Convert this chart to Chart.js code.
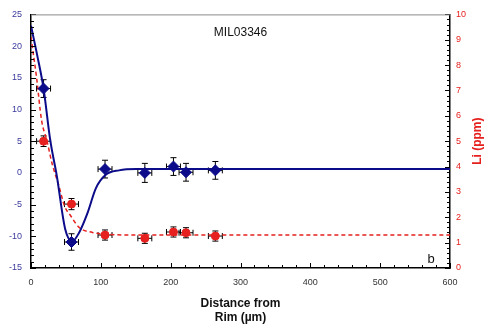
<!DOCTYPE html>
<html lang="en">
<head>
<meta charset="UTF-8">
<title>MIL03346 Li profile</title>
<script src="https://cdn.jsdelivr.net/npm/chart.js"></script>
<style>
  html, body { margin: 0; padding: 0; background: #fff; }
  #wrap { width: 485px; height: 326px; }
</style>
</head>
<body>
<div id="wrap"><canvas id="chart" width="485" height="326"></canvas></div>
<script>
// measured points (distance from rim, µm)
const distance = [18, 58, 106, 163, 204, 222, 264];
const distErr = [10, 10, 10, 10, 10, 10, 10];
// left axis series (blue diamonds)
const d7Li = [13.3, -10.9, 0.6, 0.0, 1.0, 0.1, 0.4];
const d7LiErr = [1.4, 1.3, 1.4, 1.5, 1.4, 1.4, 1.4];
// right axis series, Li (ppm) (red circles)
const liPpm = [5.0, 2.52, 1.3, 1.17, 1.42, 1.39, 1.26];
const liPpmErr = [0.21, 0.22, 0.2, 0.2, 0.2, 0.2, 0.2];

// model curves
const blueCurveX = [0, 9, 18, 27.5, 37, 49, 59, 69, 81, 93, 107, 126, 151, 600];
const blueCurveY = [23.2, 18.5, 13.3, 5.2, -0.5, -8.9, -10.8, -9.4, -6.3, -2.4, -0.3, 0.4, 0.6, 0.6];
const redCurveX = [0, 8, 15, 23, 30, 40, 48, 57, 69, 88, 107, 150, 600];
const redCurveY = [9.1, 7.5, 5.85, 5.0, 4.14, 3.23, 2.45, 2.05, 1.6, 1.4, 1.33, 1.3, 1.3];

const pts = (xs, ys) => xs.map((x, i) => ({ x: x, y: ys[i] }));

const FONT = "'Liberation Sans', Arial, sans-serif";
const BLUE = '#0c0c8a';
const RED = '#e5201e';

const decorPlugin = {
  id: 'decor',
  beforeDatasetsDraw(chart) {
    const ctx = chart.ctx;
    const xs = chart.scales.x, ys = chart.scales.y, y2 = chart.scales.y2;
    ctx.save();
    ctx.strokeStyle = '#000';
    ctx.lineWidth = 1;
    const bars = (vals, errs, scale) => {
      distance.forEach((d, i) => {
        const px = xs.getPixelForValue(d), py = scale.getPixelForValue(vals[i]);
        const x0 = xs.getPixelForValue(d - distErr[i]), x1 = xs.getPixelForValue(d + distErr[i]);
        const yTop = scale.getPixelForValue(vals[i] + errs[i]), yBot = scale.getPixelForValue(vals[i] - errs[i]);
        ctx.beginPath();
        ctx.moveTo(x0, py); ctx.lineTo(x1, py);
        ctx.moveTo(x0, py - 3); ctx.lineTo(x0, py + 3);
        ctx.moveTo(x1, py - 3); ctx.lineTo(x1, py + 3);
        ctx.moveTo(px, yTop); ctx.lineTo(px, yBot);
        ctx.moveTo(px - 3, yTop); ctx.lineTo(px + 3, yTop);
        ctx.moveTo(px - 3, yBot); ctx.lineTo(px + 3, yBot);
        ctx.stroke();
      });
    };
    bars(liPpm, liPpmErr, y2);
    bars(d7Li, d7LiErr, ys);
    ctx.restore();
  },
  afterDraw(chart) {
    const ctx = chart.ctx, a = chart.chartArea;
    ctx.save();
    // inward tick marks
    ctx.strokeStyle = '#000';
    ctx.lineWidth = 1;
    const drawTicks = (scale, dir) => {
      scale.ticks.forEach(t => {
        const major = scale.options.ticks.callback(t.value) !== '';
        const len = major ? 5 : 3;
        const p = Math.round(scale.getPixelForValue(t.value)) + 0.5;
        ctx.beginPath();
        if (dir === 'x') { ctx.moveTo(p, a.bottom); ctx.lineTo(p, a.bottom - len); }
        else if (dir === 'l') { ctx.moveTo(a.left, p); ctx.lineTo(a.left + len, p); }
        else { ctx.moveTo(a.right, p); ctx.lineTo(a.right - len, p); }
        ctx.stroke();
      });
    };
    drawTicks(chart.scales.x, 'x');
    drawTicks(chart.scales.y, 'l');
    drawTicks(chart.scales.y2, 'r');
    // top frame line
    ctx.strokeStyle = '#8a8a8a';
    ctx.beginPath();
    ctx.moveTo(a.left, a.top + 0.5); ctx.lineTo(a.right, a.top + 0.5);
    ctx.stroke();
    // texts
    ctx.fillStyle = '#111';
    ctx.font = '12px ' + FONT;
    ctx.textAlign = 'center';
    ctx.textBaseline = 'middle';
    ctx.fillText('MIL03346', (a.left + a.right) / 2, a.top + 18);
    ctx.font = '13px ' + FONT;
    ctx.fillText('b', a.right - 19, a.bottom - 9);
    // right axis title, reading upward
    ctx.fillStyle = RED;
    ctx.font = 'bold 12px ' + FONT;
    ctx.translate(478, (a.top + a.bottom) / 2);
    ctx.rotate(-Math.PI / 2);
    ctx.fillText('Li (ppm)', 0, 0);
    ctx.restore();
  }
};

new Chart(document.getElementById('chart'), {
  type: 'line',
  data: {
    datasets: [
      { data: pts(distance, d7Li), yAxisID: 'y', showLine: false, pointStyle: 'rectRot', pointRadius: 5.5, backgroundColor: BLUE, borderColor: BLUE, borderWidth: 1 },
      { data: pts(distance, liPpm), yAxisID: 'y2', showLine: false, pointStyle: 'circle', pointRadius: 4, backgroundColor: RED, borderColor: RED, borderWidth: 1 },
      { data: pts(blueCurveX, blueCurveY), yAxisID: 'y', borderColor: BLUE, borderWidth: 2, pointRadius: 0, tension: 0.3, cubicInterpolationMode: 'monotone' },
      { data: pts(redCurveX, redCurveY), yAxisID: 'y2', borderColor: RED, borderWidth: 1.5, borderDash: [4, 3], pointRadius: 0, cubicInterpolationMode: 'monotone' }
    ]
  },
  options: {
    responsive: false,
    animation: false,
    layout: { padding: { top: 13, left: 0, right: 0, bottom: 0 } },
    plugins: { legend: { display: false }, tooltip: { enabled: false } },
    scales: {
      x: {
        type: 'linear', min: 0, max: 600,
        border: { color: '#000', width: 1.5 },
        grid: { drawOnChartArea: false, drawTicks: false },
        ticks: { stepSize: 20, autoSkip: false, maxRotation: 0, padding: 9, color: '#333', font: { family: FONT, size: 9 },
          callback: v => (v % 100 === 0 ? String(v) : '') },
        title: { display: true, text: ['Distance from', 'Rim (µm)'], color: '#111', font: { family: FONT, size: 12, weight: 'bold' }, padding: { top: 0, bottom: 1 } },
        afterFit: s => { s.height = 58; }
      },
      y: {
        type: 'linear', position: 'left', min: -15, max: 25,
        border: { color: '#000', width: 1.5 },
        grid: { drawOnChartArea: false, drawTicks: false },
        ticks: { stepSize: 1, autoSkip: false, padding: 9, color: '#3a3a9c', font: { family: FONT, size: 9 },
          callback: v => (v % 5 === 0 ? String(v) : '') },
        afterFit: s => { s.width = 31; }
      },
      y2: {
        type: 'linear', position: 'right', min: 0, max: 10,
        border: { color: '#000', width: 1.5 },
        grid: { drawOnChartArea: false, drawTicks: false },
        ticks: { stepSize: 0.2, autoSkip: false, padding: 6, color: RED, font: { family: FONT, size: 9 },
          callback: v => (Math.abs(v - Math.round(v)) < 1e-6 ? String(Math.round(v)) : '') },
        afterFit: s => { s.width = 35; }
      }
    }
  },
  plugins: [decorPlugin]
});
</script>
</body>
</html>
